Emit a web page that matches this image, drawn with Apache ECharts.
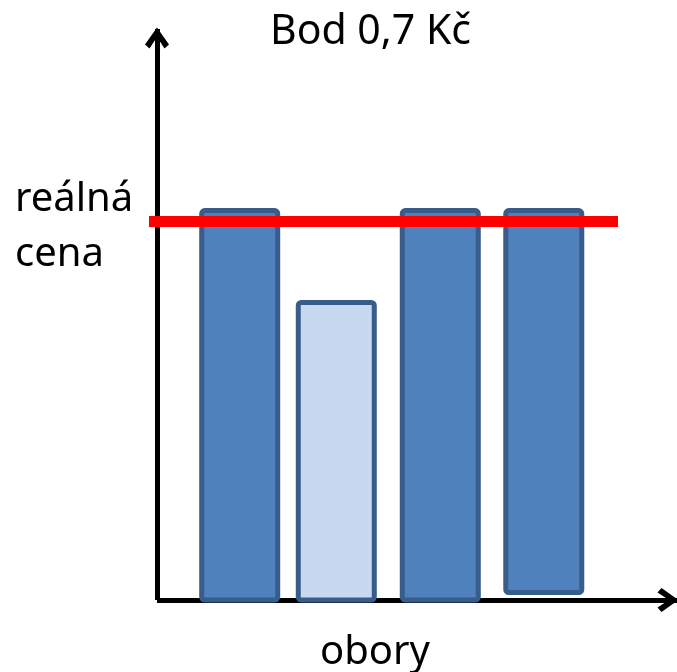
<!DOCTYPE html>
<html lang="cs">
<head>
    <meta charset="UTF-8">
    <title>Bod 0,7 Kč</title>
    <script src="https://cdn.jsdelivr.net/npm/echarts@6/dist/echarts.min.js"></script>
    <style>
        html, body { margin: 0; padding: 0; background: #fff; }
        #chart { width: 677px; height: 672px; }
    </style>
</head>
<body>
<div id="chart"></div>
<script>
    // data
    var titleText = 'Bod 0,7 Kč';
    var xName = 'obory';
    var priceLabel = 'reálná\ncena';
    var barPositions = [0.835, 1.81, 2.86, 3.905];   // where each obor sits on the x axis
    var barBase = [0, 0, 0, 1.3];                   // bottom of each bar
    var barTop = [68.2, 52.1, 68.2, 68.2];          // top of each bar
    var barHighlighted = [0, 1, 0, 0];
    var realPrice = 66.3;

    var arrow = 'path://M0,17 L12,0 L24,17 L19.5,21 L12,9.5 L4.5,21 Z';
    var font = 'Noto Sans';

    var barData = barPositions.map(function (x, i) {
        return [x, barBase[i], barTop[i], barHighlighted[i]];
    });

    var axisLine = {
        show: true,
        onZero: false,
        symbol: ['none', arrow],
        symbolSize: [24, 22],
        symbolOffset: [0, -9],
        lineStyle: { color: '#000', width: 5, cap: 'butt' }
    };

    var textStyle = { fontFamily: font, fontSize: 40, fontWeight: 'normal', color: '#000', lineHeight: 40 };

    var option = {
        animation: false,
        backgroundColor: '#fff',
        title: [
            { text: titleText, left: 270, top: 12, padding: 0,
              textStyle: Object.assign({}, textStyle, { fontSize: 41 }) },
            { text: priceLabel, left: 15, top: 172, padding: 0,
              textStyle: Object.assign({}, textStyle, { lineHeight: 55 }) },
            { text: xName, left: 320, top: 633, padding: 0, textStyle: textStyle }
        ],
        grid: [
            { left: 157, right: -5, top: 29, bottom: 72 },
            { left: 149, right: 59, top: 29, bottom: 72 }
        ],
        xAxis: [
            { type: 'value', gridIndex: 0, min: 0, max: 5.25,
              axisLine: axisLine, axisTick: { show: false }, axisLabel: { show: false }, splitLine: { show: false } },
            { type: 'value', gridIndex: 1, min: 0, max: 1, show: false }
        ],
        yAxis: [
            { type: 'value', gridIndex: 0, min: 0, max: 100,
              axisLine: axisLine, axisTick: { show: false }, axisLabel: { show: false }, splitLine: { show: false } },
            { type: 'value', gridIndex: 1, min: 0, max: 100, show: false }
        ],
        series: [
            {
                type: 'custom', xAxisIndex: 0, yAxisIndex: 0, z: 3,
                clip: false,
                encode: { x: 0, y: [1, 2] },
                data: barData,
                renderItem: function (params, api) {
                    var bottom = api.coord([api.value(0), api.value(1)]);
                    var top = api.coord([api.value(0), api.value(2)]);
                    var w = 76;
                    return {
                        type: 'rect',
                        shape: { x: bottom[0] - w / 2, y: top[1], width: w, height: bottom[1] - top[1], r: 3 },
                        style: {
                            fill: api.value(3) ? '#C6D9F1' : '#4F81BD',
                            stroke: '#385D8A',
                            lineWidth: 5
                        }
                    };
                }
            },
            {
                type: 'line', xAxisIndex: 1, yAxisIndex: 1, z: 5,
                symbol: 'none',
                data: [[0, realPrice], [1, realPrice]],
                lineStyle: { color: '#FF0000', width: 11, cap: 'butt' }
            }
        ]
    };

    var myChart = echarts.init(document.getElementById('chart'));
    myChart.setOption(option);
</script>
</body>
</html>
